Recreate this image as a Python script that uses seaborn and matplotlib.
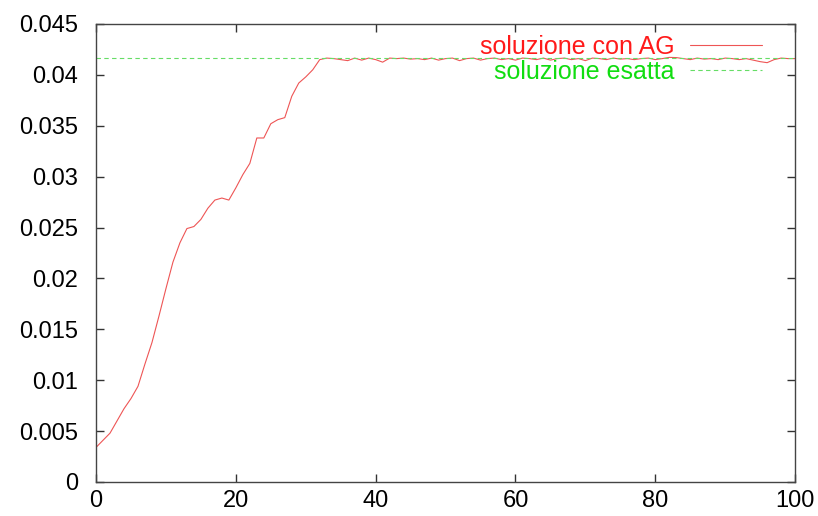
import numpy as np
import pandas as pd
import matplotlib
matplotlib.use("Agg")
import matplotlib.pyplot as plt
import seaborn as sns

generations = list(range(0, 101))
ag_values = [
    0.0034, 0.0041, 0.0048, 0.0060, 0.0072, 0.0082, 0.0094, 0.0116, 0.0137, 0.0163,
    0.0190, 0.0216, 0.0235, 0.0249, 0.0251, 0.0258, 0.0269, 0.0277, 0.0279, 0.0277,
    0.0289, 0.0302, 0.0313, 0.0338, 0.0338, 0.0352, 0.0356, 0.0358, 0.0379, 0.0392,
    0.0398, 0.0405, 0.0415, 0.04165, 0.04160, 0.04150, 0.04140, 0.04165, 0.04145, 0.04165,
    0.04150, 0.04125, 0.04165, 0.04160, 0.04165, 0.04155, 0.04160, 0.04150, 0.04165, 0.04145,
    0.04160, 0.04165, 0.04140, 0.04160, 0.04165, 0.04145, 0.04160, 0.04165, 0.04150, 0.04160,
    0.04145, 0.04165, 0.04160, 0.04150, 0.04165, 0.04145, 0.04160, 0.04165, 0.04150, 0.04160,
    0.04140, 0.04165, 0.04160, 0.04150, 0.04165, 0.04155, 0.04160, 0.04150, 0.04160, 0.04165,
    0.04150, 0.04160, 0.04172, 0.04170, 0.04160, 0.04150, 0.04165, 0.04155, 0.04160, 0.04150,
    0.04165, 0.04160, 0.04150, 0.04160, 0.04145, 0.04130, 0.04120, 0.04150, 0.04165, 0.04160,
    0.04160,
]
exact_value = 1.0 / 24.0
labels = ["soluzione con AG", "soluzione esatta"]
x_ticks = [0, 20, 40, 60, 80, 100]
y_ticks = [0, 0.005, 0.01, 0.015, 0.02, 0.025, 0.03, 0.035, 0.04, 0.045]
y_tick_labels = ["0", "0.005", "0.01", "0.015", "0.02", "0.025", "0.03", "0.035", "0.04", "0.045"]

df = pd.DataFrame({"gen": generations, "val": ag_values})
df_exact = pd.DataFrame({"gen": [0, 100], "val": [exact_value, exact_value]})

sns.set_style("ticks")
plt.rcParams["font.family"] = ["Liberation Sans", "DejaVu Sans"]

fig = plt.figure(figsize=(8.18, 5.16), dpi=100)
ax = fig.add_axes([0.1174, 0.0659, 0.8546, 0.8876])

red_line = "#ee5555"
green_line = "#66dd66"
sns.lineplot(data=df, x="gen", y="val", ax=ax, color=red_line, linewidth=0.8, label=labels[0])
sns.lineplot(data=df_exact, x="gen", y="val", ax=ax, color=green_line, linewidth=0.8,
             linestyle=(0, (4, 3)), label=labels[1])

ax.set_xlim(0, 100)
ax.set_ylim(0, 0.045)
ax.set_xticks(x_ticks)
ax.set_xticklabels([str(t) for t in x_ticks])
ax.set_yticks(y_ticks)
ax.set_yticklabels(y_tick_labels)
ax.set_xlabel("")
ax.set_ylabel("")
ax.tick_params(direction="in", length=6, width=1, top=True, right=True,
               labelsize=17, colors="#333333", labelcolor="black", pad=6)
ax.tick_params(axis="y", pad=13)
for sp in ax.spines.values():
    sp.set_visible(True)
    sp.set_color("#444444")
    sp.set_linewidth(1.0)

leg = ax.legend(loc="upper right", bbox_to_anchor=(0.953, 0.976), frameon=False,
                markerfirst=False, fontsize=18, handlelength=2.9, handletextpad=0.6,
                labelspacing=0.05, borderaxespad=0.0, borderpad=0.0)
leg.get_texts()[0].set_color("#ff1a1a")
leg.get_texts()[1].set_color("#11dd11")

fig.savefig("out.png", dpi=100)
